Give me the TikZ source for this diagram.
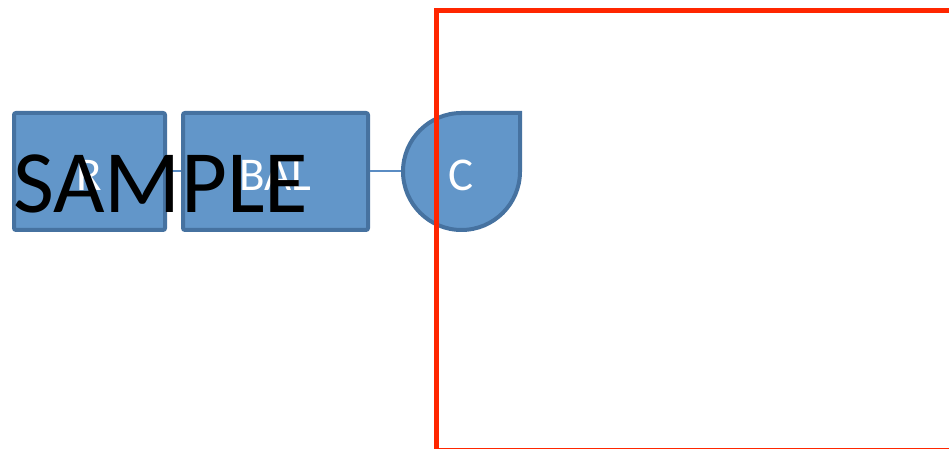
\documentclass[tikz,border=0pt]{standalone}
\usepackage{fontspec}
\setmainfont{Carlito}
\usetikzlibrary{positioning}

\definecolor{boxfill}{RGB}{98,150,201}
\definecolor{boxline}{RGB}{70,114,160}
\definecolor{linkline}{RGB}{90,140,195}
\definecolor{frame}{RGB}{255,38,0}

\begin{document}
\begin{tikzpicture}[x=1pt, y=1pt,
	label text/.style={text=white, font=\fontsize{47}{47}\selectfont},
	block/.style={draw=boxline, fill=boxfill, line width=4pt, rounded corners=2pt,
		label text, inner sep=0pt, minimum height=117pt},
	link/.style={draw=linkline, line width=2pt}]
\useasboundingbox (0,0) rectangle (949,449);
\clip (0,0) rectangle (949,449);
%the blocks
\node[block, minimum width=151pt] (r) at (89.5,277.5) {};
\node[block, minimum width=185pt] (bal) at (275.5,277.5) {};
%the teardrop with the square corner
\draw[draw=boxline, fill=boxfill, line width=4pt] (520,336) -- (520,277.5) arc (0:-270:58.5) -- cycle;
\node[circle, inner sep=0pt, minimum size=121pt] (c) at (461.5,277.5) {};
%connectors
\draw[link] (r.east) -- (bal.west);
\draw[link] (bal.east) -- (c.west);
%texts, a bit below the middle
\node[label text] at ([yshift=-4pt]r.center) {R};
\node[label text] at ([yshift=-4pt]bal.center) {BAL};
\node[label text] at ([yshift=-4pt]c.center) {C};
%the red frame
\draw[frame, line width=5pt] (436.5,-2) rectangle (960,438.5);
%watermark
\node[anchor=base west, inner sep=0pt, font=\fontsize{89}{89}\selectfont] (mark) at (13,236) {SAMPLE};
\end{tikzpicture}
\end{document}
